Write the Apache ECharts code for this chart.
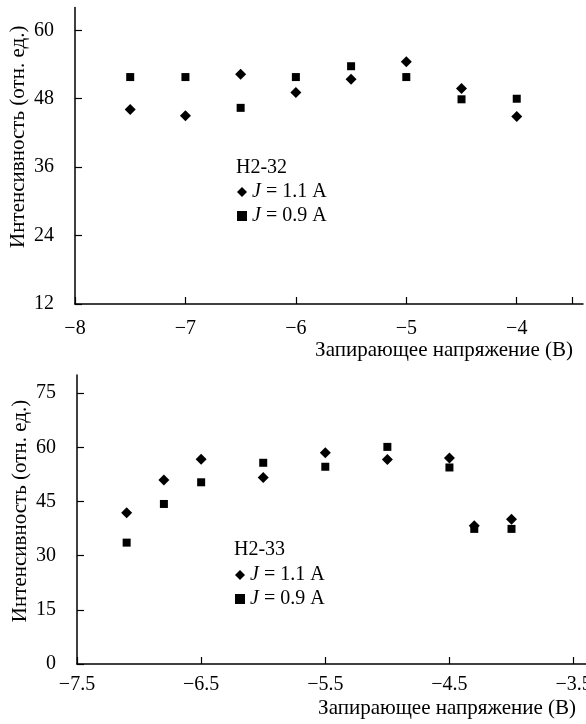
<!DOCTYPE html>
<html>
<head>
<meta charset="utf-8">
<script src="https://cdn.jsdelivr.net/npm/echarts@6/dist/echarts.min.js"></script>
<style>
html, body { margin: 0; padding: 0; background: #fff; }
#main { width: 586px; height: 724px; }
</style>
</head>
<body>
<div id="main"></div>
<script>
// верхний график H2-32
var xTop = [-7.5, -7, -6.5, -6, -5.5, -5, -4.5, -4];
var topJ11 = [46.1, 45.0, 52.3, 49.1, 51.4, 54.5, 49.8, 44.9];
var topJ09 = [51.8, 51.8, 46.4, 51.8, 53.7, 51.8, 47.9, 48.0];
var topYTicks = [12, 24, 36, 48, 60];
var topXTicks = [-8, -7, -6, -5, -4];

// нижний график H2-33
var xBot = [-7.1, -6.8, -6.5, -6.0, -5.5, -5.0, -4.5, -4.3, -4.0];
var botJ11 = [41.9, 50.9, 56.7, 51.6, 58.5, 56.6, 57.0, 38.3, 40.1];
var botJ09 = [33.6, 44.3, 50.3, 55.7, 54.6, 60.1, 54.4, 37.4, 37.4];
var botYTicks = [0, 15, 30, 45, 60, 75];
var botXTicks = [-7.5, -6.5, -5.5, -4.5, -3.5];

var nameJ11 = 'J = 1.1 A';
var nameJ09 = 'J = 0.9 A';
var xName = 'Запирающее напряжение (В)';
var yName = 'Интенсивность (отн. ед.)';

var font = '"Liberation Serif", "DejaVu Serif", serif';
var fs = 20;   // подписи делений, легенда
var fsName = 21; // названия осей

function zip(xs, ys) {
    var out = [];
    for (var i = 0; i < xs.length; i++) {
        out.push([xs[i], ys[i]]);
    }
    return out;
}

function minusFmt(v) {
    return (v < 0 ? '\u2212' : '') + Math.abs(v);
}

function xAxisCfg(idx, min, max, ticks, tickExtra, namePad, labelMargin) {
    return {
        type: 'value',
        gridIndex: idx,
        min: min,
        max: max,
        name: xName,
        nameLocation: 'end',
        nameGap: -10,
        nameMoveOverlap: false,
        nameTextStyle: {
            fontFamily: font, fontSize: fsName, color: '#000',
            align: 'right', verticalAlign: 'top', padding: [namePad, 0, 0, 0]
        },
        axisLine: { lineStyle: { color: '#000', width: 1.5 } },
        axisTick: { inside: true, length: 7, lineStyle: { color: '#000', width: 1.2 }, customValues: ticks.concat(tickExtra) },
        axisLabel: { customValues: ticks, formatter: minusFmt, fontFamily: font, fontSize: fs, color: '#000', margin: labelMargin },
        splitLine: { show: false }
    };
}

function yAxisCfg(idx, min, max, ticks, shift) {
    return {
        type: 'value',
        gridIndex: idx,
        min: min,
        max: max,
        name: yName,
        nameLocation: 'middle',
        nameGap: 46,
        nameMoveOverlap: false,
        nameTextStyle: { fontFamily: font, fontSize: fsName, color: '#000', padding: [0, 0, 0, shift] },
        axisLine: { show: true, lineStyle: { color: '#000', width: 1.5 } },
        axisTick: { show: true, inside: true, length: 7, lineStyle: { color: '#000', width: 1.2 }, customValues: ticks },
        axisLabel: { customValues: ticks, fontFamily: font, fontSize: fs, color: '#000', margin: 21 },
        splitLine: { show: false }
    };
}

function legendCfg(left, top) {
    return {
        orient: 'vertical',
        left: left,
        top: top,
        padding: 0,
        itemGap: 4,
        itemWidth: 10,
        itemHeight: 10,
        data: [nameJ11, nameJ09],
        formatter: function (name) {
            return '{i|J}' + name.slice(1);
        },
        textStyle: {
            fontFamily: font, fontSize: fs, color: '#000', lineHeight: 20,
            rich: { i: { fontFamily: font, fontSize: fs, fontStyle: 'italic', color: '#000' } }
        },
        selectedMode: false
    };
}

function scatter(name, symbol, size, xi, data) {
    return {
        name: name,
        type: 'scatter',
        xAxisIndex: xi,
        yAxisIndex: xi,
        symbol: symbol,
        symbolSize: size,
        itemStyle: { color: '#000', opacity: 1 },
        data: data
    };
}

var myCharts = echarts.init(document.getElementById('main'));
var option = {
    animation: false,
    title: [
        { text: 'H2-32', left: 236, top: 158, padding: 0, textStyle: { fontFamily: font, fontSize: fs, fontWeight: 'normal', color: '#000' } },
        { text: 'H2-33', left: 234, top: 540, padding: 0, textStyle: { fontFamily: font, fontSize: fs, fontWeight: 'normal', color: '#000' } }
    ],
    legend: [legendCfg(237, 182), legendCfg(235, 565)],
    grid: [
        { left: 75, right: 3, top: 7.5, height: 296.5, outerBoundsMode: 'none' },
        { left: 77, right: 0, top: 375, height: 289, outerBoundsMode: 'none' }
    ],
    xAxis: [
        xAxisCfg(0, -8, -3.4, topXTicks, [-3.5], 36, 15),
        xAxisCfg(1, -7.5, -3.4, botXTicks, [], 34, 11)
    ],
    yAxis: [
        yAxisCfg(0, 12, 64, topYTicks, 38),
        yAxisCfg(1, 0, 80, botYTicks, 17)
    ],
    series: [
        scatter(nameJ11, 'diamond', 11, 0, zip(xTop, topJ11)),
        scatter(nameJ09, 'rect', 8, 0, zip(xTop, topJ09)),
        scatter(nameJ11, 'diamond', 11, 1, zip(xBot, botJ11)),
        scatter(nameJ09, 'rect', 8, 1, zip(xBot, botJ09))
    ]
};
myCharts.setOption(option);
</script>
</body>
</html>
